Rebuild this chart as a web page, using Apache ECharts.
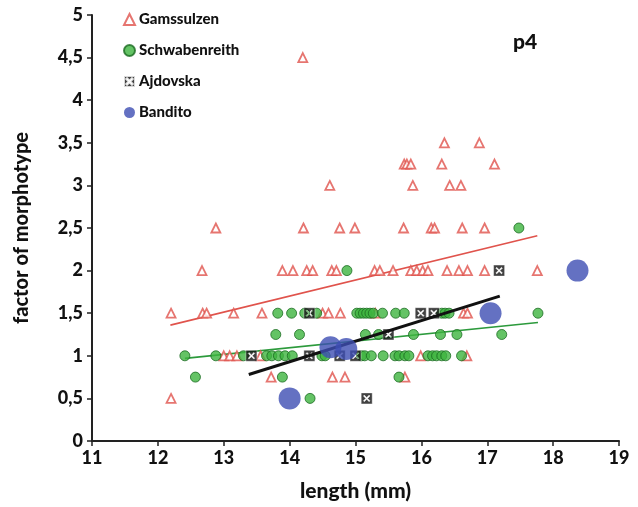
<!DOCTYPE html>
<html>
<head>
<meta charset="utf-8">
<script src="https://cdn.jsdelivr.net/npm/echarts@6/dist/echarts.min.js"></script>
<style>
html,body{margin:0;padding:0;background:#fff;}
#chart{width:638px;height:507px;}
</style>
</head>
<body>
<div id="chart"></div>
<script>
var myChart = echarts.init(document.getElementById('chart'));

// [length, factor]
var gamssulzen = [
  [12.2,0.5],[12.2,1.5],[12.68,1.5],[12.74,1.5],[13.15,1.5],[13.58,1.5],[14.5,1.5],[14.59,1.5],[14.77,1.5],[15.3,1.5],[16.64,1.5],[16.7,1.5],
  [13.0,1],[13.09,1],[13.2,1],[13.56,1],[15.99,1],[16.69,1],
  [13.72,0.75],[14.65,0.75],[14.84,0.75],[15.75,0.75],
  [12.67,2],[13.89,2],[14.05,2],[14.26,2],[14.35,2],[14.64,2],[14.71,2],[15.29,2],[15.37,2],[15.57,2],[15.84,2],[15.93,2],[16.02,2],[16.1,2],[16.39,2],[16.57,2],[16.7,2],[16.96,2],[17.76,2],
  [12.88,2.5],[14.21,2.5],[14.76,2.5],[14.99,2.5],[15.73,2.5],[16.15,2.5],[16.2,2.5],[16.62,2.5],[16.96,2.5],
  [14.61,3],[15.87,3],[16.43,3],[16.6,3],
  [15.74,3.25],[15.78,3.25],[15.84,3.25],[16.31,3.25],[17.11,3.25],
  [16.35,3.5],[16.88,3.5],
  [14.2,4.5]
];
var schwabenreith = [
  [13.82,1.5],[14.03,1.5],[14.23,1.5],[14.41,1.5],[15.02,1.5],[15.07,1.5],[15.12,1.5],[15.17,1.5],[15.22,1.5],[15.27,1.5],[15.41,1.5],[15.61,1.5],[15.74,1.5],[16.31,1.5],[16.36,1.5],[16.42,1.5],[17.77,1.5],
  [13.79,1.25],[14.15,1.25],[15.15,1.25],[15.35,1.25],[15.88,1.25],[16.29,1.25],[16.54,1.25],[17.22,1.25],
  [12.41,1],[12.88,1],[13.3,1],[13.65,1],[13.73,1],[13.83,1],[13.93,1],[14.04,1],[14.49,1],[14.54,1],[15.09,1],[15.14,1],[15.24,1],[15.42,1],[15.6,1],[15.66,1],[15.75,1],[15.81,1],[16.1,1],[16.17,1],[16.23,1],[16.31,1],[16.37,1],[16.61,1],
  [12.57,0.75],[13.89,0.75],[15.66,0.75],
  [14.31,0.5],
  [14.87,2],
  [17.48,2.5]
];
var ajdovska = [
  [13.42,1],[14.3,1.5],[14.3,1],[14.76,1],[15.0,1],[15.5,1.25],[15.99,1.5],[16.19,1.5],[17.18,2],[15.17,0.5]
];
var bandito = [
  [14.0,0.5],[14.62,1.1],[14.86,1.08],[17.05,1.5],[18.37,2.0]
];

// trend line end points
var trendGams = [[12.19,1.36],[17.76,2.41]];
var trendSchw = [[12.41,0.97],[17.77,1.39]];
var trendAjdo = [[13.38,0.78],[17.19,1.70]];

var xTicks = [11, 19, 1];
var yTicks = [0, 5, 0.5];

var boxX = 'path://M0 0L10 0L10 10L0 10Z M4.2 5L2 7.2L2.8 8L5 5.8L7.2 8L8 7.2L5.8 5L8 2.8L7.2 2L5 4.2L2.8 2L2 2.8Z';

var font = 'Lato, "Open Sans", sans-serif';

var option = {
  animation: false,
  backgroundColor: '#fff',
  title: {
    text: 'p4',
    left: 508,
    top: 27,
    textStyle: { fontFamily: font, fontWeight: 900, fontSize: 21, color: '#111' }
  },
  legend: {
    data: [
      { name: 'Gamssulzen', icon: 'triangle' },
      { name: 'Schwabenreith', icon: 'circle' },
      { name: 'Ajdovska', icon: boxX },
      { name: 'Bandito', icon: 'circle' }
    ],
    orient: 'vertical',
    left: 118,
    top: 7,
    itemGap: 16,
    itemWidth: 11,
    itemHeight: 11,
    textStyle: { fontFamily: font, fontWeight: 900, fontSize: 15, color: '#111', padding: [0, 0, 0, -1] }
  },
  grid: { left: 92, right: 19, top: 15, bottom: 66 },
  xAxis: {
    type: 'value',
    min: xTicks[0], max: xTicks[1], interval: xTicks[2],
    name: 'length (mm)',
    nameLocation: 'middle',
    nameGap: 40,
    nameTextStyle: { fontFamily: font, fontWeight: 900, fontSize: 21, color: '#111' },
    axisLine: { lineStyle: { color: '#222', width: 2 } },
    axisTick: { show: true, length: 5, lineStyle: { color: '#222', width: 1.5 } },
    axisLabel: { fontFamily: font, fontWeight: 900, fontSize: 18, color: '#111', margin: 8 },
    splitLine: { show: false }
  },
  yAxis: {
    type: 'value',
    min: yTicks[0], max: yTicks[1], interval: yTicks[2],
    name: 'factor of morphotype',
    nameLocation: 'middle',
    nameGap: 60,
    nameTextStyle: { fontFamily: font, fontWeight: 900, fontSize: 20, color: '#111' },
    axisLine: { show: true, lineStyle: { color: '#222', width: 2 } },
    axisTick: { show: true, length: 5, lineStyle: { color: '#222', width: 1.5 } },
    axisLabel: {
      fontFamily: font, fontWeight: 900, fontSize: 18, color: '#111', margin: 9,
      formatter: function (v) { return String(v).replace('.', ','); }
    },
    splitLine: { show: false }
  },
  series: [
    {
      name: 'Gamssulzen trend', type: 'line', data: trendGams, symbol: 'none',
      lineStyle: { color: '#e0534c', width: 1.6 }, z: 1
    },
    {
      name: 'Schwabenreith trend', type: 'line', data: trendSchw, symbol: 'none',
      lineStyle: { color: '#2c9a3c', width: 1.6 }, z: 1
    },
    {
      name: 'Gamssulzen', type: 'scatter', data: gamssulzen,
      symbol: 'triangle', symbolSize: 9,
      itemStyle: { color: '#fff', borderColor: '#e0534c', borderWidth: 1.8 }, z: 2
    },
    {
      name: 'Schwabenreith', type: 'scatter', data: schwabenreith,
      symbol: 'circle', symbolSize: 10,
      itemStyle: { color: '#3db43f', borderColor: '#1c6b22', borderWidth: 1 }, z: 3
    },
    {
      name: 'Ajdovska', type: 'scatter', data: ajdovska,
      symbol: boxX, symbolSize: 11,
      itemStyle: { color: '#111', borderColor: '#fff', borderWidth: 0.5 }, z: 4
    },
    {
      name: 'Ajdovska trend', type: 'line', data: trendAjdo, symbol: 'none',
      lineStyle: { color: '#111', width: 3 }, z: 5
    },
    {
      name: 'Bandito', type: 'scatter', data: bandito,
      symbol: 'circle', symbolSize: 22,
      itemStyle: { color: '#3d4db3' }, z: 6
    }
  ]
};

myChart.setOption(option);
</script>
</body>
</html>
